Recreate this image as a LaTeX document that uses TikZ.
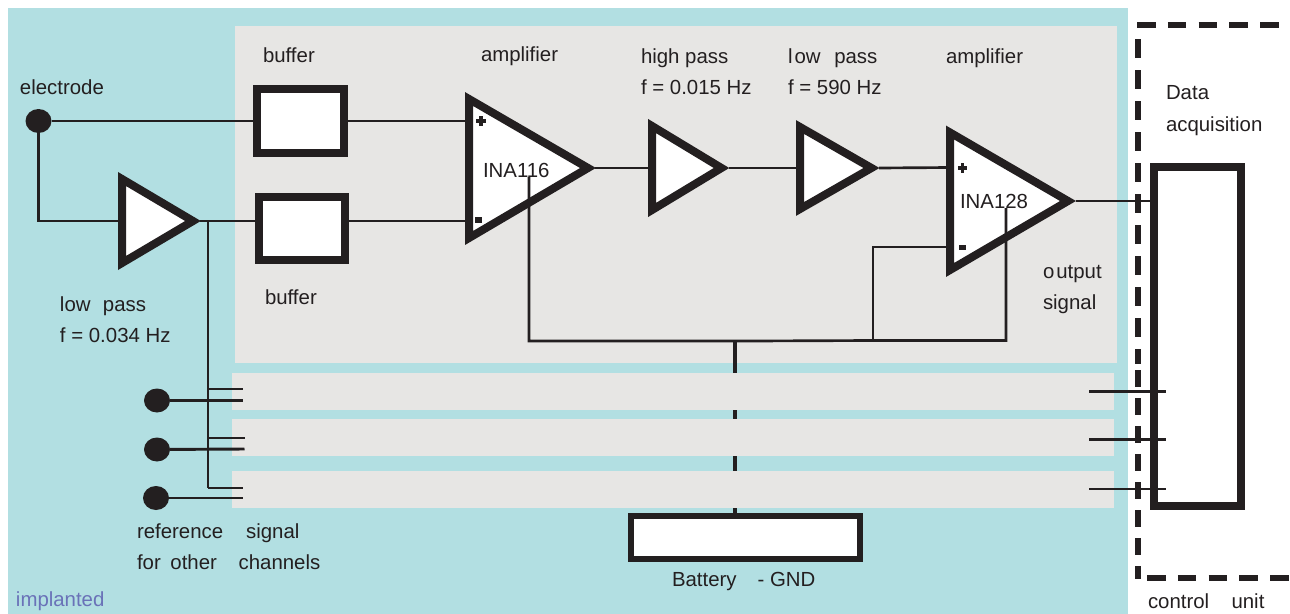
\documentclass[tikz,border=0pt]{standalone}
\usepackage{fontspec}
\setmainfont{Liberation Sans}
\definecolor{implbg}{HTML}{B2DFE2}
\definecolor{panel}{HTML}{E7E6E4}
\definecolor{ink}{HTML}{231F20}
\definecolor{impltxt}{HTML}{6A72B8}
\tikzset{
  lbl/.style={anchor=base west,inner sep=0pt,outer sep=0pt,text=ink,font=\fontsize{15.3}{18}\selectfont},
  wire/.style={draw=ink,line width=2pt},
  thin wire/.style={draw=ink,line width=1.5pt},
  thick wire/.style={draw=ink,line width=2.2pt},
  stem/.style={draw=ink,line width=3.6pt},
  tri/.style={draw=ink,fill=white,line width=6pt,miter limit=10},
  blockbox/.style={draw=ink,fill=white,line width=6pt,rectangle,inner sep=0pt,outer sep=0pt},
  dot/.style={ellipse,fill=ink,inner sep=0pt,outer sep=0pt,minimum width=19.5pt,minimum height=18pt},
  frame/.style={draw=ink,line width=4.2pt},
}
\usetikzlibrary{shapes.geometric}
\begin{document}
\begin{tikzpicture}[x=0.75pt,y=-0.75pt]
\useasboundingbox (0,0) rectangle (1290,614);
% backgrounds
\fill[implbg] (8,8) rectangle (1128,614);
\fill[panel] (235,26) rectangle (1117,363);
% coordinates
\coordinate (stemtop) at (735,341);
\coordinate (stembot) at (735,516);
% battery stem runs beneath the strips
\draw[stem] (stemtop) -- (stembot);
\fill[panel] (232,373) rectangle (1114,410);
\fill[panel] (232,419) rectangle (1114,456);
\fill[panel] (232,471) rectangle (1114,508);
% nodes
\node[dot] (e0) at (38.5,121) {};
\node[dot] (e1) at (157,400.5) {};
\node[dot] (e2) at (157,449.5) {};
\node[dot] (e3) at (156,498) {};
\coordinate (b1in) at (257,121);
\coordinate (b1out) at (344,121);
\coordinate (b2in) at (259,221);
\coordinate (b2out) at (345,221);
\coordinate (lpin) at (122,221);
\coordinate (lpout) at (200,221);
\coordinate (junc) at (208,221);
\coordinate (corner) at (38.5,221);
\coordinate (ap) at (469,121);
\coordinate (am) at (469,221);
\coordinate (aout) at (595,168);
\coordinate (hin) at (652,168);
\coordinate (hout) at (729,168);
\coordinate (lin) at (800,168);
\coordinate (lout) at (879,168);
\coordinate (cp) at (950,167.5);
\coordinate (cm) at (950,247);
\coordinate (cout) at (1076,201);
\coordinate (daq) at (1154,201);
\coordinate (g1) at (529,341);
\coordinate (g2) at (873,340.5);
\coordinate (g3) at (1006,340.5);
\coordinate (g1t) at (529,177);
\coordinate (g3t) at (1006,208);
% wires under blocks
\draw[wire] (e0) -- (b1in);
\draw[wire] (e0) -- (corner) -- (lpin);
\draw[wire] (lpout) -- (b2in);
\draw[wire] (b1out) -- (ap);
\draw[wire] (b2out) -- (am);
\draw[wire] (aout) -- (hin);
\draw[wire] (hout) -- (lin);
\draw[wire] (lout) -- (cp);
\draw[wire] (cout) -- (daq);
\draw[wire] (g2) |- (cm);
% blocks
\node[blockbox,minimum width=65.25pt,minimum height=48pt] (buf1) at (300.5,121) {};
\node[blockbox,minimum width=64.5pt,minimum height=47.25pt] (buf2) at (302,228.5) {};
\node[blockbox,line width=4.5pt,minimum width=171.75pt,minimum height=32.25pt] (batt) at (745.5,537.5) {};
\node[blockbox,minimum width=64.9pt,minimum height=254.25pt] (daqbox) at (1197.25,336.5) {};
\draw[tri] (122,179) -- (193,221) -- (122,263) -- cycle;
\draw[tri] (469,99) -- (588,168) -- (469,238) -- cycle;
\draw[tri] (652,126) -- (721.5,168) -- (652,210) -- cycle;
\draw[tri] (800,127) -- (871.5,168) -- (800,209) -- cycle;
\draw[tri] (950,132.5) -- (1068,201) -- (950,270) -- cycle;
% plus and minus marks
\fill[ink] (475.8,119.2) rectangle (485.6,122.8);
\fill[ink] (478.9,116) rectangle (482.5,126);
\fill[ink] (474.5,217.2) rectangle (481.5,223.2);
\fill[ink] (958,166) rectangle (967,169.5);
\fill[ink] (960.8,163) rectangle (964.2,172.5);
\fill[ink] (959,245) rectangle (966,250);
% ground bus
\draw[wire] (g1t) -- (g1) -- (752,341) -- (g2) -- (g3) -- (g3t);
% reference lines
\draw[stem,line width=2.2pt] (junc) -- (208,488);
\coordinate (r1a) at (243,389);
\coordinate (r1b) at (243,400.5);
\coordinate (r2a) at (244.5,438);
\coordinate (r2b) at (244.5,449);
\coordinate (r3a) at (243,488);
\coordinate (r3b) at (243,498);
\draw[thin wire] (208,389) -- (r1a);
\draw[thin wire] (208,438) -- (r2a);
\draw[thin wire] (208,488) -- (r3a);
\draw[thick wire] (e1) -- (r1b);
\draw[thick wire] (e2) -- (r2b);
\draw[thick wire] (e3) -- (r3b);
% control unit frame
\draw[frame,dash pattern=on 14pt off 9.1pt] (1137,25) -- (1282,25);
\draw[frame,dash pattern=on 14pt off 9.25pt] (1138,39) -- (1138,364);
\draw[frame,dash pattern=on 12.4pt off 8.6pt] (1138,370) -- (1138,579);
\draw[frame,dash pattern=on 14pt off 9.1pt] (1147,578) -- (1290,578);
% channel lines into the acquisition box
\coordinate (c1) at (1166,391.5);
\coordinate (c2) at (1166,439.5);
\coordinate (c3) at (1166,489);
\draw[thick wire] (1089,391.5) -- (c1);
\draw[thick wire] (1089,439.5) -- (c2);
\draw[thick wire] (1089,489) -- (c3);
% labels
\node[lbl] (t1) at (20,94) {electrode};
\node[lbl] (t2) at (263,62) {buffer};
\node[lbl] (t3) at (265,304) {buffer};
\node[lbl] (t4) at (481,61) {amplifier};
\node[lbl] (t5) at (641,63) {high pass};
\node[lbl] (t6) at (641,94) {f = 0.015 Hz};
\node[lbl] (t7) at (788,63) {l\hspace{1.5pt}ow\hspace{6pt} pass};
\node[lbl] (t8) at (788,94) {f = 590 Hz};
\node[lbl] (t9) at (946,63) {amplifier};
\node[lbl] (t10) at (60,311) {low\hspace{5pt} pass};
\node[lbl] (t11) at (60,342) {f = 0.034 Hz};
\node[lbl] (t12) at (483,177) {INA116};
\node[lbl] (t13) at (960,208) {INA128};
\node[lbl] (t14) at (1043,278) {o\hspace{1.5pt}utput};
\node[lbl] (t15) at (1043,309) {signal};
\node[lbl] (t16) at (1166,99) {Data};
\node[lbl] (t17) at (1166,131) {acquisition};
\node[lbl] (t18) at (137,538) {reference\hspace{13pt} signal};
\node[lbl] (t19) at (137,569) {for\hspace{3pt} other\hspace{12pt} channels};
\node[lbl] (t20) at (672,586) {Battery\hspace{11.5pt} - GND};
\node[lbl] (t21) at (1148,608) {control\hspace{12.5pt} unit};
\node[lbl,text=impltxt] (t22) at (16,606) {implanted};
\end{tikzpicture}
\end{document}
